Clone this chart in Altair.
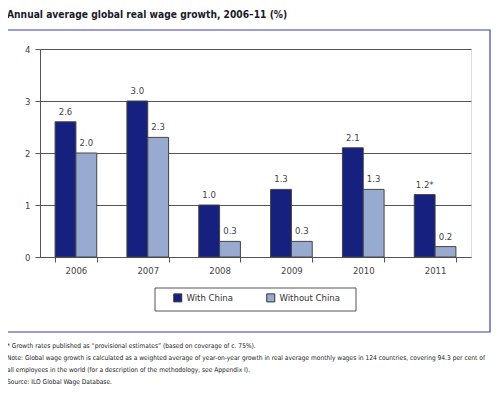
import altair as alt
import pandas as pd

years = ["2006", "2007", "2008", "2009", "2010", "2011"]
with_china = [2.6, 3.0, 1.0, 1.3, 2.1, 1.2]
without_china = [2.0, 2.3, 0.3, 0.3, 1.3, 0.2]
with_labels = ["2.6", "3.0", "1.0", "1.3", "2.1", "1.2*"]
without_labels = ["2.0", "2.3", "0.3", "0.3", "1.3", "0.2"]
series = ["With China", "Without China"]
colors = ["#15207f", "#99aad0"]

title_text = "Annual average global real wage growth, 2006\u201311 (%)"
notes = [
    "* Growth rates published as \u201cprovisional estimates\u201d (based on coverage of c. 75%).",
    "Note: Global wage growth is calculated as a weighted average of year-on-year growth in real average monthly wages in 124 countries, covering 94.3 per cent of",
    "all employees in the world (for a description of the methodology, see Appendix I).",
    "Source: ILO Global Wage Database.",
]

FONT = "DejaVu Sans Condensed, Liberation Sans, sans-serif"

rows = []
for i, y in enumerate(years):
    rows.append({"year": y, "series": series[0], "value": with_china[i], "label": with_labels[i]})
    rows.append({"year": y, "series": series[1], "value": without_china[i], "label": without_labels[i]})
df = pd.DataFrame(rows)

x_enc = alt.X("year:N", title=None, sort=years,
              scale=alt.Scale(paddingInner=0.42, paddingOuter=0.21),
              axis=alt.Axis(labelAngle=0, tickBand="extent", tickSize=5, labelPadding=3,
                            domainColor="#555", tickColor="#555", labelColor="#444",
                            labelFontSize=9.5, labelFont=FONT, grid=False))
xoff = alt.XOffset("series:N", sort=series)
y_enc = alt.Y("value:Q", title=None,
              scale=alt.Scale(domain=[0, 4]),
              axis=alt.Axis(values=[0, 1, 2, 3, 4], format="d", tickSize=5, labelPadding=5,
                            domainColor="#555", tickColor="#555", gridColor="#555",
                            labelColor="#444", labelFontSize=9.5, labelFont=FONT))

bars = alt.Chart(df).mark_bar(stroke="#444", strokeWidth=1).encode(
    x=x_enc, xOffset=xoff, y=y_enc,
    color=alt.Color("series:N", sort=series,
                    scale=alt.Scale(domain=series, range=colors),
                    legend=alt.Legend(title=None, orient="none", legendX=133, legendY=244,
                                      direction="horizontal", symbolType="square",
                                      symbolSize=64, symbolStrokeColor="#333",
                                      symbolStrokeWidth=1, labelFontSize=9.5,
                                      labelFont=FONT, labelColor="#333",
                                      columnPadding=30, padding=0, symbolOpacity=1)),
)

labels = alt.Chart(df).mark_text(baseline="bottom", dy=-5, fontSize=9.5, font=FONT, color="#444").encode(
    x=alt.X("year:N", sort=years), xOffset=xoff, y=alt.Y("value:Q"), text="label:N"
)

one = pd.DataFrame({"a": [0]})
frame = alt.Chart(one).mark_rect(fill=None, stroke="#3a3fa5", strokeWidth=1.2).encode(
    x=alt.value(-33), x2=alt.value(450), y=alt.value(-19), y2=alt.value(283)
)
legend_box = alt.Chart(one).mark_rect(fill=None, stroke="#555", strokeWidth=1).encode(
    x=alt.value(115), x2=alt.value(316), y=alt.value(239), y2=alt.value(262)
)
title = alt.Chart(one).mark_text(align="left", baseline="middle", fontSize=10.2, fontWeight="bold",
                                 font=FONT, color="#1a1a2a").encode(
    x=alt.value(-33), y=alt.value(-34), text=alt.value(title_text)
)
note_layer = alt.Chart(one).mark_text(align="left", baseline="top", fontSize=6.6,
                                      font=FONT, color="#222", lineBreak="\n",
                                      lineHeight=12).encode(
    x=alt.value(-33), y=alt.value(294), text=alt.value("\n".join(notes))
)

chart = alt.layer(frame, legend_box, bars, labels, title, note_layer).properties(
    width=431, height=208,
    autosize=alt.AutoSizeParams(type="none"),
    padding={"left": 32, "top": 41, "right": 21, "bottom": 130},
).configure_view(stroke="#555", strokeWidth=1).configure(background="white")

chart.save("out.html", embed_options={"renderer": "svg", "actions": False})
